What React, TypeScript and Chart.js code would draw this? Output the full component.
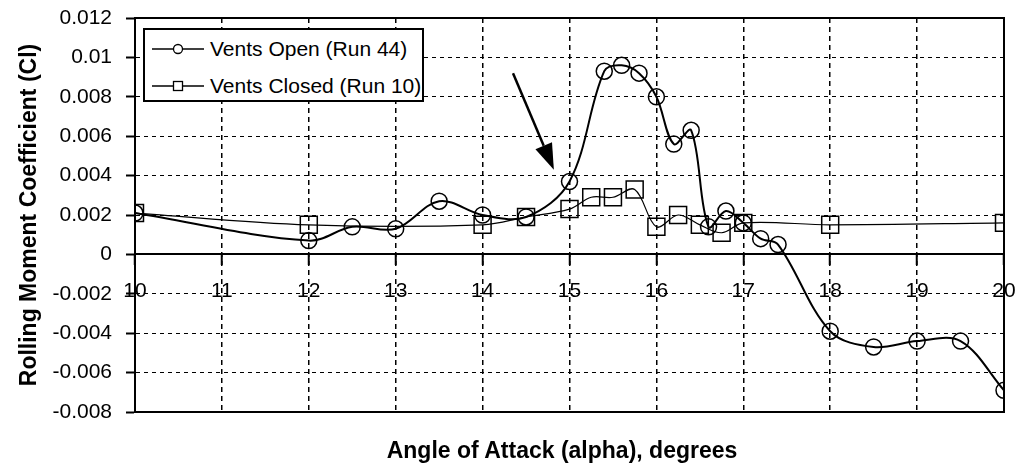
import React, { useEffect, useRef } from "react";
import { Chart, registerables } from "chart.js";

Chart.register(...registerables);

const OPEN_X = [10, 12, 12.5, 13, 13.5, 14, 14.5, 15, 15.4, 15.6, 15.8, 16, 16.2, 16.4, 16.6, 16.8, 17, 17.2, 17.4, 18, 18.5, 19, 19.5, 20];
const OPEN_Y = [0.0021, 0.0007, 0.0014, 0.0013, 0.0027, 0.002, 0.0019, 0.0037, 0.0093, 0.0096, 0.0092, 0.008, 0.0056, 0.0063, 0.0014, 0.0022, 0.0016, 0.0008, 0.0005, -0.0039, -0.0047, -0.0044, -0.0044, -0.0069];
const CLOSED_X = [10, 12, 14, 14.5, 15, 15.25, 15.5, 15.75, 16, 16.25, 16.5, 16.75, 17, 18, 20];
const CLOSED_Y = [0.0021, 0.0015, 0.0015, 0.0019, 0.0023, 0.0029, 0.0029, 0.0033, 0.0014, 0.002, 0.0015, 0.0011, 0.0016, 0.0015, 0.0016];
const SERIES_LABELS = ["Vents Open (Run 44)", "Vents Closed (Run 10)"];
const X_RANGE = [10, 20];
const Y_RANGE = [-0.008, 0.012];
const Y_STEP = 0.002;
const Y_TITLE = "Rolling Moment Coefficient (Cl)";
const X_TITLE = "Angle of Attack (alpha), degrees";
const ARROW_X = [14.35, 14.82];
const ARROW_Y = [0.0092, 0.0043];

const FONT = "'Liberation Sans', Arial, Helvetica, sans-serif";

const framePlugin = {
  id: "frame",
  afterDraw(chart: any) {
    const { ctx, chartArea } = chart;
    ctx.save();
    ctx.strokeStyle = "#000";
    ctx.lineWidth = 2;
    ctx.beginPath();
    ctx.moveTo(chartArea.left, chartArea.top);
    ctx.lineTo(chartArea.right, chartArea.top);
    ctx.lineTo(chartArea.right, chartArea.bottom);
    ctx.lineTo(chartArea.left, chartArea.bottom);
    ctx.stroke();
    // arrow annotation
    const xs = chart.scales.x;
    const ys = chart.scales.y;
    const x1 = xs.getPixelForValue(ARROW_X[0]);
    const y1 = ys.getPixelForValue(ARROW_Y[0]);
    const x2 = xs.getPixelForValue(ARROW_X[1]);
    const y2 = ys.getPixelForValue(ARROW_Y[1]);
    const ang = Math.atan2(y2 - y1, x2 - x1);
    const headLen = 26;
    const headHalf = 9;
    const bx = x2 - headLen * Math.cos(ang);
    const by = y2 - headLen * Math.sin(ang);
    ctx.lineWidth = 2.5;
    ctx.beginPath();
    ctx.moveTo(x1, y1);
    ctx.lineTo(bx, by);
    ctx.stroke();
    ctx.fillStyle = "#000";
    ctx.beginPath();
    ctx.moveTo(x2, y2);
    ctx.lineTo(bx + headHalf * Math.sin(ang), by - headHalf * Math.cos(ang));
    ctx.lineTo(bx - headHalf * Math.sin(ang), by + headHalf * Math.cos(ang));
    ctx.closePath();
    ctx.fill();
    ctx.restore();
  },
};

function LegendSample({ kind }: { kind: "circle" | "square" }) {
  return (
    <svg width={52} height={16} style={{ display: "block" }}>
      <line x1={0} y1={8} x2={52} y2={8} stroke="#000" strokeWidth={1.5} />
      {kind === "circle" ? (
        <circle cx={26} cy={8} r={4.5} fill="#fff" stroke="#000" strokeWidth={1.3} />
      ) : (
        <rect x={21.5} y={3.5} width={9} height={9} fill="#fff" stroke="#000" strokeWidth={1.3} />
      )}
    </svg>
  );
}

function zeroPad(s: any) {
  s.paddingTop = 0;
  s.paddingBottom = 0;
  s.paddingLeft = 0;
  s.paddingRight = 0;
}

export default function App() {
  const ref = useRef<HTMLCanvasElement | null>(null);

  useEffect(() => {
    document.body.style.margin = "0";
    const canvas = ref.current;
    if (!canvas) return;
    const chart = new Chart(canvas, {
      type: "line",
      data: {
        datasets: [
          {
            label: SERIES_LABELS[0],
            data: OPEN_X.map((x, i) => ({ x, y: OPEN_Y[i] })),
            borderColor: "#000",
            borderWidth: 2,
            backgroundColor: "rgba(0,0,0,0)",
            pointStyle: "circle",
            pointRadius: 8,
            pointBorderWidth: 1.5,
            pointBorderColor: "#000",
            pointBackgroundColor: "rgba(0,0,0,0)",
            tension: 0.35,
          },
          {
            label: SERIES_LABELS[1],
            data: CLOSED_X.map((x, i) => ({ x, y: CLOSED_Y[i] })),
            borderColor: "#000",
            borderWidth: 1.2,
            backgroundColor: "rgba(0,0,0,0)",
            pointStyle: "rect",
            pointRadius: 12,
            pointBorderWidth: 1.5,
            pointBorderColor: "#000",
            pointBackgroundColor: "rgba(0,0,0,0)",
            tension: 0.35,
          },
        ],
      },
      options: {
        responsive: false,
        animation: false,
        devicePixelRatio: 1,
        layout: { padding: { top: 18, right: 14, bottom: 58, left: 0 } },
        plugins: {
          legend: { display: false },
          tooltip: { enabled: false },
          title: { display: false },
        },
        scales: {
          x: {
            type: "linear",
            position: { y: 0 } as any,
            min: X_RANGE[0],
            max: X_RANGE[1],
            afterFit: (s: any) => {
              s.height = 0;
              zeroPad(s);
            },
            ticks: {
              stepSize: 1,
              color: "#000",
              font: { family: FONT, size: 21 },
              padding: 14,
              maxRotation: 0,
              callback: (v: any) => String(v),
            },
            grid: {
              color: "#000",
              lineWidth: 1.5,
              drawTicks: true,
              tickLength: 10,
              tickColor: "#000",
              tickWidth: 2,
            },
            border: { display: true, color: "#000", width: 2, dash: [5, 4] },
          },
          y: {
            type: "linear",
            position: "left",
            min: Y_RANGE[0],
            max: Y_RANGE[1],
            afterFit: (s: any) => {
              s.width = 135;
              zeroPad(s);
            },
            ticks: {
              stepSize: Y_STEP,
              color: "#000",
              font: { family: FONT, size: 21 },
              padding: 14,
              callback: (v: any) => String(parseFloat(Number(v).toFixed(3))),
            },
            grid: {
              color: "#000",
              lineWidth: 1,
              drawTicks: true,
              tickLength: 9,
              tickColor: "#000",
              tickWidth: 2,
            },
            border: { display: true, color: "#000", width: 2, dash: [4, 4] },
            title: {
              display: true,
              text: Y_TITLE,
              color: "#000",
              font: { family: FONT, size: 23, weight: "bold" },
              padding: { top: 16, bottom: 0 },
            },
          },
        },
      },
      plugins: [framePlugin],
    });
    return () => chart.destroy();
  }, []);

  return (
    <div style={{ position: "relative", width: 1018, height: 470, background: "#fff", fontFamily: FONT }}>
      <canvas ref={ref} width={1018} height={470} style={{ display: "block" }} />
      <div
        style={{
          position: "absolute",
          left: 143,
          top: 28,
          width: 277,
          height: 70,
          border: "2px solid #000",
          background: "#fff",
          boxSizing: "content-box",
          fontSize: 21,
          color: "#000",
        }}
      >
        {[0, 1].map((i) => (
          <div
            key={i}
            style={{
              position: "absolute",
              left: 7,
              top: i === 0 ? 7 : 44,
              height: 24,
              display: "flex",
              alignItems: "center",
              whiteSpace: "nowrap",
            }}
          >
            <LegendSample kind={i === 0 ? "circle" : "square"} />
            <span style={{ marginLeft: 6 }}>{SERIES_LABELS[i]}</span>
          </div>
        ))}
      </div>
      <div
        style={{
          position: "absolute",
          left: 262,
          width: 600,
          top: 437,
          textAlign: "center",
          fontWeight: "bold",
          fontSize: 23,
          color: "#000",
          whiteSpace: "nowrap",
        }}
      >
        {X_TITLE}
      </div>
    </div>
  );
}
